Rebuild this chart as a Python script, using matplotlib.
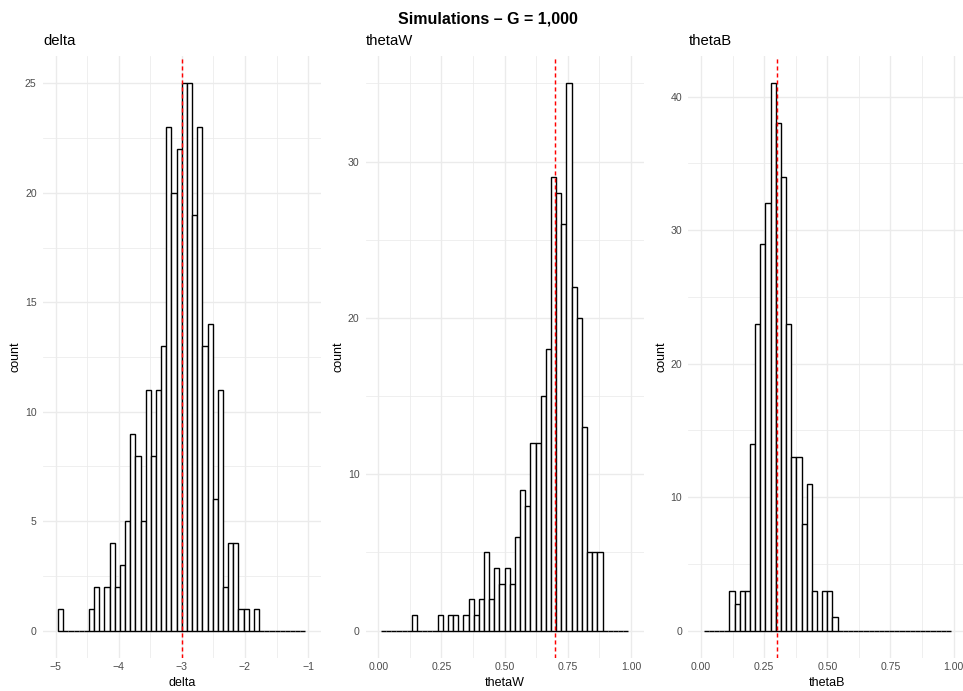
import numpy as np
import matplotlib
matplotlib.use('Agg')
import matplotlib.pyplot as plt
from matplotlib.ticker import FixedLocator, FuncFormatter

plt.rcParams['font.family'] = ['Liberation Sans', 'DejaVu Sans']

# ------------------------------------------------------------
# Data : histogram counts
#        (50 bins over the axis limits, outer two bins dropped)
# ------------------------------------------------------------
nbins = 50

delta_lim = (-5.0, -1.0)
delta_true = -3.0
delta_counts = [1, 0, 0, 0, 0, 0, 1, 2, 0, 2,
                4, 2, 3, 5, 9, 8, 5, 11, 8, 11,
                13, 23, 20, 22, 25, 25, 19, 23, 13, 14,
                6, 11, 2, 4, 4, 1, 1, 0, 1, 0,
                0, 0, 0, 0, 0, 0, 0, 0]

thetaW_lim = (0.0, 1.0)
thetaW_true = 0.7
thetaW_counts = [0, 0, 0, 0, 0, 0, 1, 0, 0, 0,
                 0, 1, 0, 1, 1, 0, 1, 2, 1, 2,
                 5, 2, 4, 3, 4, 3, 6, 9, 8, 12,
                 12, 15, 18, 29, 28, 26, 35, 22, 20, 13,
                 5, 5, 5, 0, 0, 0, 0, 0]

thetaB_lim = (0.0, 1.0)
thetaB_true = 0.3
thetaB_counts = [0, 0, 0, 0, 0, 3, 2, 3, 3, 14,
                 23, 29, 32, 41, 38, 34, 23, 13, 13, 8,
                 11, 3, 0, 3, 3, 1, 0, 0, 0, 0,
                 0, 0, 0, 0, 0, 0, 0, 0, 0, 0,
                 0, 0, 0, 0, 0, 0, 0, 0]

names = ['delta', 'thetaW', 'thetaB']
lims = [delta_lim, thetaW_lim, thetaB_lim]
counts_all = [delta_counts, thetaW_counts, thetaB_counts]
trues = [delta_true, thetaW_true, thetaB_true]

x_major = [[-5, -4, -3, -2, -1], [0, 0.25, 0.5, 0.75, 1.0], [0, 0.25, 0.5, 0.75, 1.0]]
x_minor = [[-4.5, -3.5, -2.5, -1.5], [0.125, 0.375, 0.625, 0.875], [0.125, 0.375, 0.625, 0.875]]
y_major = [[0, 5, 10, 15, 20, 25], [0, 10, 20, 30], [0, 10, 20, 30, 40]]
y_minor = [[2.5, 7.5, 12.5, 17.5, 22.5], [5, 15, 25, 35], [5, 15, 25, 35]]

# ------------------------------------------------------------
# Layout (pixels)
# ------------------------------------------------------------
W, H = 963, 691
panel_left = [42.9, 365.7, 688.4]
panel_w = 277.8
panel_top, panel_bot = 56, 658
grid_col = '#EBEBEB'

fig = plt.figure(figsize=(W/100, H/100), dpi=100)

for i in range(3):
    L = panel_left[i]
    lo, hi = lims[i]
    cnt = np.array(counts_all[i])
    ax = fig.add_axes([L/W, 1-panel_bot/H, panel_w/W, (panel_bot-panel_top)/H])

    w = (hi-lo)/(nbins-1)
    centers = lo + w*np.arange(1, nbins-1)
    ax.bar(centers, cnt, width=w, color='white', edgecolor='black',
           linewidth=1.0, zorder=2)
    ax.axvline(trues[i], color='red', ls=(0, (2.8, 2)), lw=1.05, zorder=3)

    span = hi-lo
    ax.set_xlim(lo-0.05*span, hi+0.05*span)
    ymax = cnt.max()
    ax.set_ylim(-0.05*ymax, 1.05*ymax)

    ax.xaxis.set_major_locator(FixedLocator(x_major[i]))
    ax.xaxis.set_minor_locator(FixedLocator(x_minor[i]))
    ax.yaxis.set_major_locator(FixedLocator(y_major[i]))
    ax.yaxis.set_minor_locator(FixedLocator(y_minor[i]))
    if i == 0:
        ax.xaxis.set_major_formatter(FuncFormatter(lambda v, p: ('%d' % v).replace('-', '\u2212')))
    else:
        ax.xaxis.set_major_formatter(FuncFormatter(lambda v, p: '%.2f' % v))
    ax.yaxis.set_major_formatter(FuncFormatter(lambda v, p: '%d' % v))

    ax.grid(which='major', color=grid_col, lw=1.0, zorder=0)
    ax.grid(which='minor', color=grid_col, lw=0.55, zorder=0)
    ax.set_axisbelow(True)
    for s in ax.spines.values():
        s.set_visible(False)
    ax.tick_params(which='both', length=0, labelsize=7.6, labelcolor='#4D4D4D')
    ax.tick_params(axis='x', pad=3.2)
    ax.tick_params(axis='y', pad=4.5)

    # panel title, axis titles
    fig.text(L/W, 1-45/H, names[i], ha='left', va='baseline', fontsize=10.7)
    fig.text((L-27)/W, 1-((panel_top+panel_bot)/2)/H, 'count', rotation=90,
             ha='center', va='center', fontsize=9)
    fig.text((L+panel_w/2)/W, 1-685.5/H, names[i], ha='center', va='baseline', fontsize=9)

fig.text(488/W, 1-23/H, 'Simulations \u2013 G = 1,000', ha='center', va='baseline',
         fontsize=11.5, fontweight='bold')

plt.savefig('out.png', dpi=100)
plt.close()
